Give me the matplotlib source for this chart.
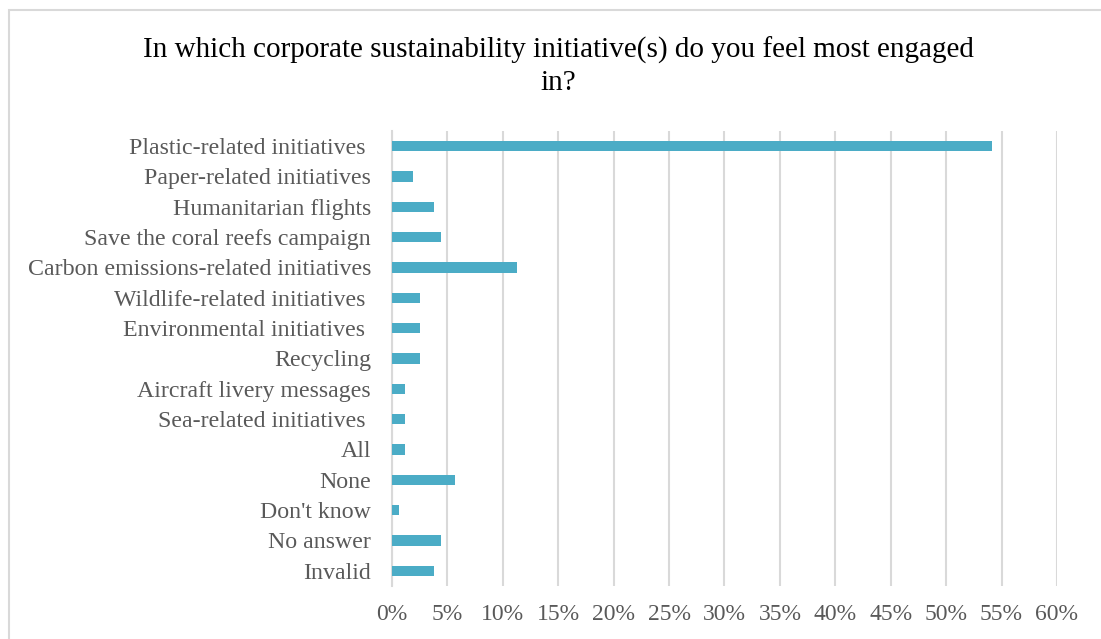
import matplotlib.pyplot as plt
from matplotlib.patches import Rectangle
from matplotlib.ticker import MultipleLocator, FuncFormatter

# Survey answers, top to bottom as shown
initiatives = [
    "Plastic-related initiatives ",
    "Paper-related initiatives",
    "Humanitarian flights",
    "Save the coral reefs campaign",
    "Carbon emissions-related initiatives",
    "Wildlife-related initiatives ",
    "Environmental initiatives ",
    "Recycling",
    "Aircraft livery messages",
    "Sea-related initiatives ",
    "All",
    "None",
    "Don't know",
    "No answer",
    "Invalid",
]
share_pct = [54.1, 1.9, 3.75, 4.4, 11.3, 2.5, 2.5, 2.5, 1.2, 1.2, 1.2, 5.7, 0.6, 4.4, 3.75]

title = "In which corporate sustainability initiative(s) do you feel most engaged\nin?"

bar_color = "#4BACC6"
grid_color = "#D9D9D9"
text_gray = "#595959"

plt.rcParams["font.family"] = ["Liberation Serif", "DejaVu Serif"]

fig = plt.figure(figsize=(11.01, 6.39), dpi=100)
ax = fig.add_axes([0.356, 0.083, 0.604, 0.712])

ypos = list(range(len(initiatives)))
ax.barh(ypos, share_pct, height=0.34, color=bar_color, zorder=3)

ax.set_ylim(len(initiatives) - 0.5, -0.5)
ax.set_yticks(ypos)
ax.set_yticklabels(initiatives, fontsize=17.2, color=text_gray)

ax.set_xlim(0, 60)
ax.xaxis.set_major_locator(MultipleLocator(5))
ax.xaxis.set_major_formatter(FuncFormatter(lambda v, _: f"{v:.0f}%"))
ax.tick_params(axis="x", labelsize=17, labelcolor=text_gray, length=0, pad=13)
ax.tick_params(axis="y", length=0, pad=15)

ax.grid(axis="x", color=grid_color, linewidth=1.5, zorder=0)
for side in ["top", "right", "bottom"]:
    ax.spines[side].set_visible(False)
ax.spines["left"].set_color(grid_color)
ax.spines["left"].set_linewidth(1.5)

fig.text(0.507, 0.942, title, ha="center", va="top", fontsize=21,
         color="black", linespacing=1.28)

# light outer frame, open at right and bottom
fig.patches.append(Rectangle((9 / 1101, -0.1), 1.2, 1 - 10 / 639 + 0.1,
                             transform=fig.transFigure, fill=False,
                             edgecolor="#D9D9D9", linewidth=1.5))

fig.savefig("out.png", dpi=100)
